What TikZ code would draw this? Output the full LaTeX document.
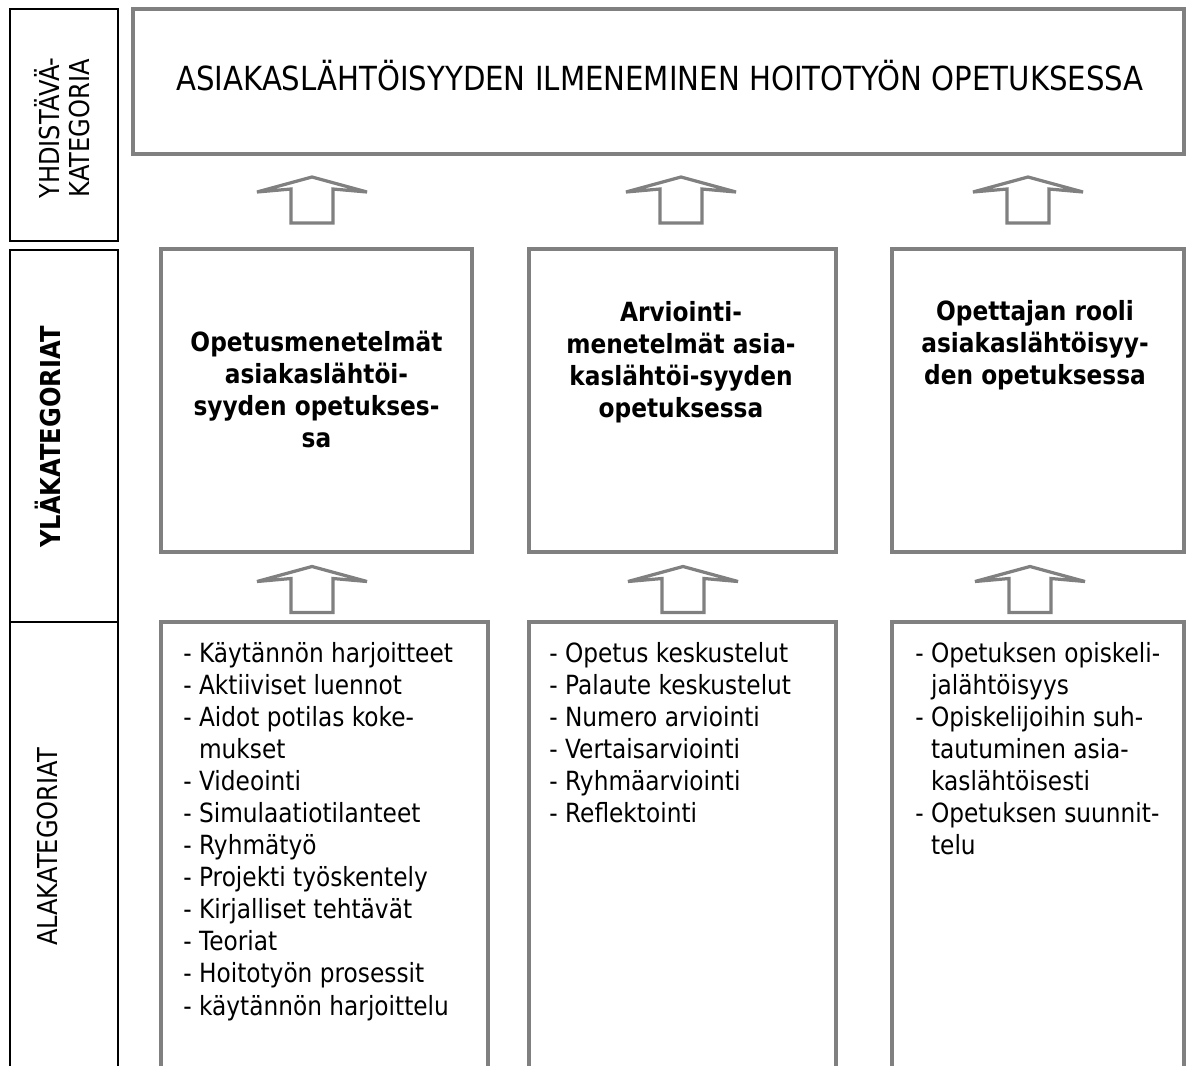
\documentclass[tikz,border=0pt]{standalone}
\usepackage{fontspec}
\setmainfont{DejaVu Sans}[FakeStretch=0.88]
\usepackage{tikz}
\definecolor{boxgray}{RGB}{128,128,128}

\begin{document}
\begin{tikzpicture}[x=0.025cm, y=-0.025cm,
        catbox/.style={rectangle, draw=boxgray, line width=2.5pt, inner sep=0pt},
        sidebox/.style={rectangle, draw=black, line width=1.2pt, minimum width=2.7cm, inner sep=0pt},
        sidelabel/.style={rotate=90, align=center, inner sep=0pt, font=\fontsize{19.5}{21.3}\selectfont},
        headtext/.style={anchor=north, align=center, inner sep=0pt, font=\bfseries\fontsize{18.8}{22.8}\selectfont},
        listtext/.style={anchor=north west, align=left, inner sep=0pt, font=\fontsize{18.8}{22.8}\selectfont},
        uparrow/.pic={\draw[boxgray, line width=2.3pt, fill=white] (-55,-8) -- (0,-23) -- (55,-8) -- (21,-11) -- (21,23) -- (-21,23) -- (-21,-11) -- cycle;}%
    ]
        \useasboundingbox (0,0) rectangle (1193,1066);
        \clip (0,0) rectangle (1193,1066);

        % left column
        \node[sidebox, minimum height=5.8cm] (sidetop) at (64,125) {};
        \node[sidebox, minimum height=9.3cm] (sidemid) at (64,436) {};
        \node[sidebox, minimum height=11.95cm] (sidelow) at (64,861) {};
        \node[sidelabel] (yhd) at (62,128) {YHDISTÄVÄ-\\KATEGORIA};
        \node[sidelabel, font=\bfseries\fontsize{19.5}{21.3}\selectfont] (yla) at (48,437) {YLÄKATEGORIAT};
        \node[sidelabel] (ala) at (48,847) {ALAKATEGORIAT};

        % main category
        \node[catbox, minimum width=26.275cm, minimum height=3.625cm] (whole) at (658.5,81.5) {};
        \node[anchor=base, inner sep=0pt, font=\fontsize{23.6}{27}\selectfont] (wholetext) at (660,90) {ASIAKASLÄHTÖISYYDEN ILMENEMINEN HOITOTYÖN OPETUKSESSA};

        % upper categories
        \node[catbox, minimum width=7.775cm, minimum height=7.575cm] (upA) at (316.5,400.5) {};
        \node[catbox, minimum width=7.675cm, minimum height=7.575cm] (upB) at (682.5,400.5) {};
        \node[catbox, minimum width=7.3cm, minimum height=7.575cm] (upC) at (1038,400.5) {};
        \node[headtext] (upAtext) at (316.5,331) {Opetusmenetelmät\\asiakaslähtöi-\\syyden opetukses-\\sa};
        \node[headtext] (upBtext) at (681,301) {Arviointi-\\menetelmät asia-\\kaslähtöi-syyden\\opetuksessa};
        \node[headtext] (upCtext) at (1035,300) {Opettajan rooli\\asiakaslähtöisyy-\\den opetuksessa};

        % lower categories
        \node[catbox, minimum width=8.175cm, minimum height=11.95cm] (lowA) at (324.5,861) {};
        \node[catbox, minimum width=7.675cm, minimum height=11.95cm] (lowB) at (682.5,861) {};
        \node[catbox, minimum width=7.3cm, minimum height=11.95cm] (lowC) at (1038,861) {};
        \node[listtext] (lowAtext) at (183,642) {- Käytännön harjoitteet\\- Aktiiviset luennot\\- Aidot potilas koke-\\\hphantom{- }mukset\\- Videointi\\- Simulaatiotilanteet\\- Ryhmätyö\\- Projekti työskentely\\- Kirjalliset tehtävät\\- Teoriat\\- Hoitotyön prosessit\\- käytännön harjoittelu};
        \node[listtext] (lowBtext) at (549,642) {- Opetus keskustelut\\- Palaute keskustelut\\- Numero arviointi\\- Vertaisarviointi\\- Ryhmäarviointi\\- Reflektointi};
        \node[listtext] (lowCtext) at (915,642) {- Opetuksen opiskeli-\\\hphantom{- }jalähtöisyys\\- Opiskelijoihin suh-\\\hphantom{- }tautuminen asia-\\\hphantom{- }kaslähtöisesti\\- Opetuksen suunnit-\\\hphantom{- }telu};

        % block arrows
        \pic at (312,200) {uparrow};
        \pic at (681,200) {uparrow};
        \pic at (1028,200) {uparrow};
        \pic at (312,589.5) {uparrow};
        \pic at (683,589.5) {uparrow};
        \pic at (1030,589.5) {uparrow};
    \end{tikzpicture}
\end{document}
